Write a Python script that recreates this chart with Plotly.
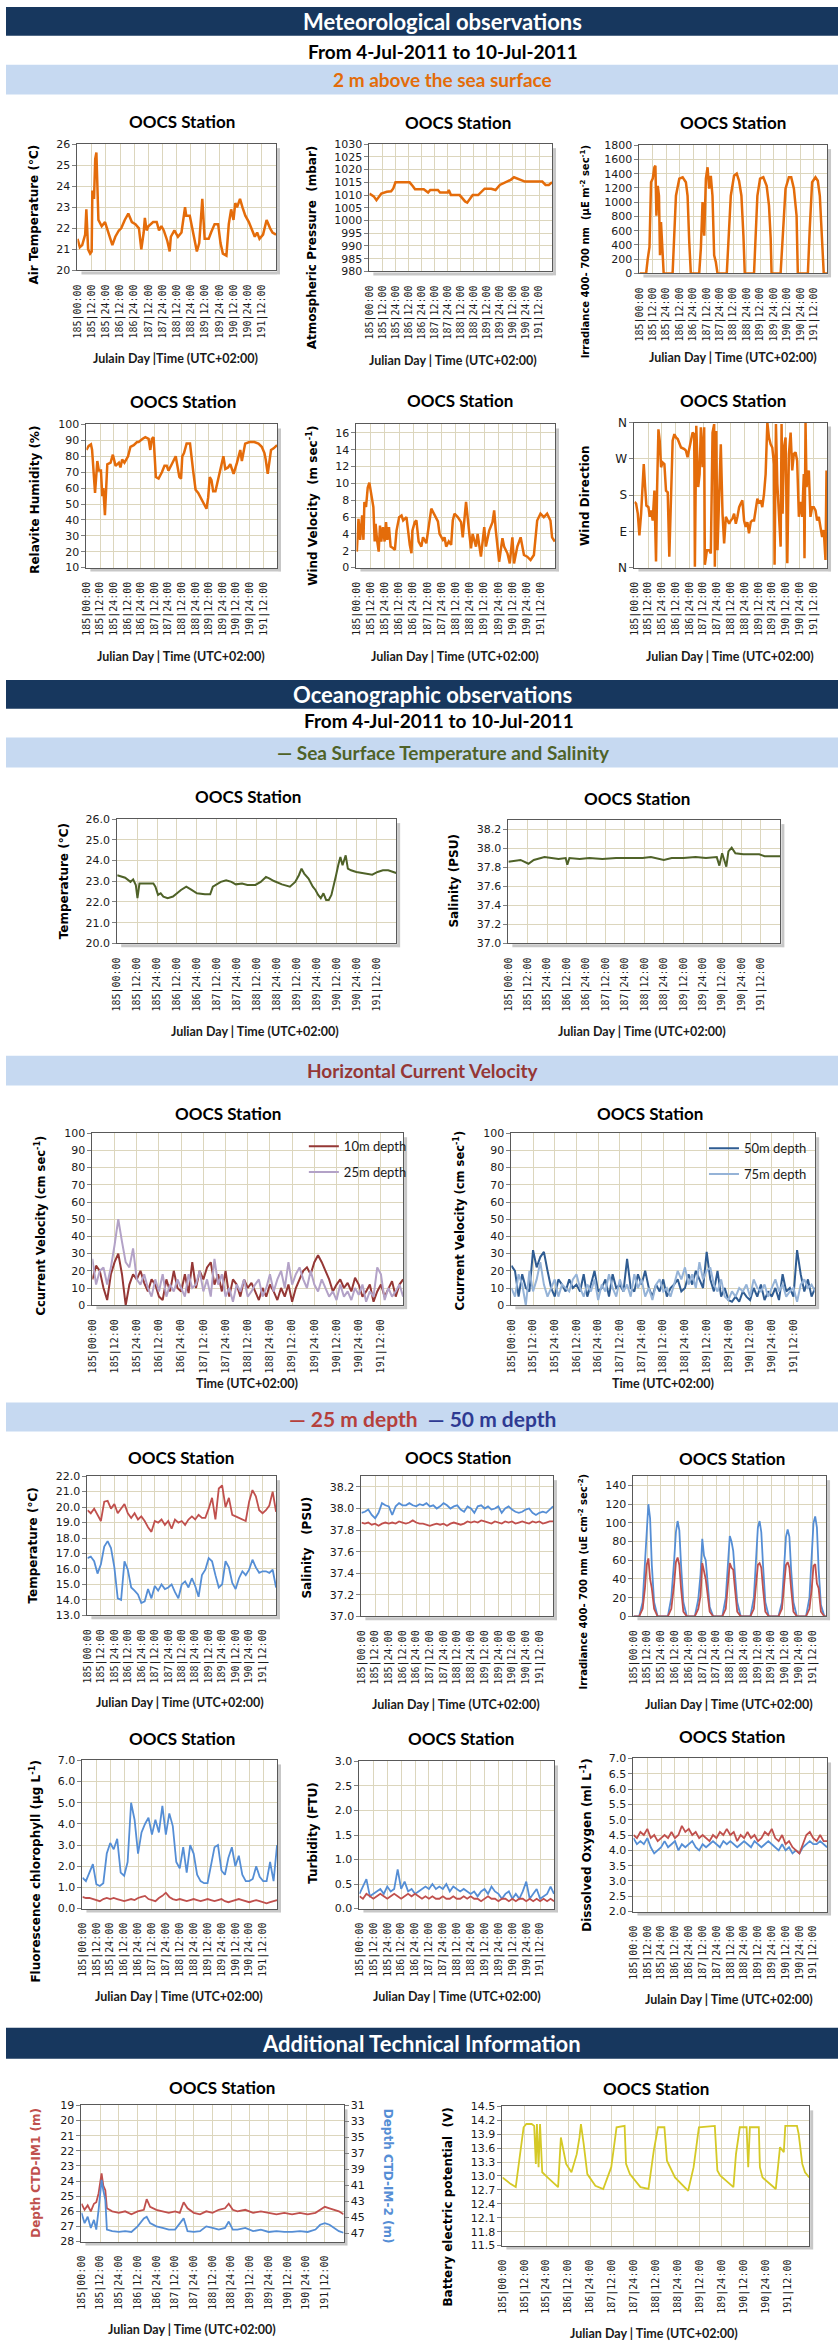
import plotly.graph_objects as go

W, H = 838, 2345

# ---------------- time axis ----------------
XTICK_H = [0, 12, 24, 36, 48, 60, 72, 84, 96, 108, 120, 132, 144, 156]
XTICK_LABELS = ['185|00:00', '185|12:00', '185|24:00', '186|12:00', '186|24:00', '187|12:00',
                '187|24:00', '188|12:00', '188|24:00', '189|12:00', '189|24:00', '190|12:00',
                '190|24:00', '191|12:00']
H3 = list(range(0, 169, 3))
H2 = list(range(0, 169, 2))

# ---------------- meteorological data ----------------
AT_H = [0, 2, 4, 6.5, 7.5, 9, 10.7, 12, 12.6, 14, 15, 16, 17.7, 20.5, 23.3, 26, 29.5, 32, 35, 37,
        40, 43, 46, 49, 52, 54, 56, 57, 58.5, 60, 64, 67, 69, 71, 73, 76, 78, 79, 82, 85,
        88, 91, 92, 95, 97, 99, 101, 103, 105.6, 107.6, 111, 113, 116, 119, 121, 123, 126, 128, 130, 132,
        133.5, 135, 137.5, 139.6, 142, 145, 148, 150, 152, 154, 157, 160, 163, 165, 168]
AT = [21.5, 21.1, 21.2, 21.7, 22.9, 21.0, 20.8, 20.9, 23.8, 23.4, 25.3, 25.6, 22.4, 22.1, 22.3, 21.8, 21.2, 21.6, 21.9, 22.0,
      22.4, 22.7, 22.3, 22.2, 22.0, 21.0, 21.8, 22.5, 21.9, 22.1, 22.3, 22.3, 21.9, 22.1, 21.9, 21.4, 20.9, 21.6, 21.9, 21.6,
      21.8, 23.0, 22.6, 22.6, 22.0, 21.4, 20.9, 21.3, 23.4, 21.5, 21.5, 21.8, 22.2, 22.2, 21.3, 20.8, 20.7, 22.2, 22.9, 22.4,
      23.2, 23.0, 23.4, 23.0, 22.6, 22.3, 21.9, 21.6, 21.8, 21.5, 21.7, 22.4, 22.0, 21.8, 21.7]

PR_H = [0, 4, 6.5, 9, 11, 16, 20, 22, 24, 30, 37, 40, 42, 50, 54, 56, 63, 65, 72, 73,
        75, 83, 88, 90, 95, 100, 106, 112, 116, 120, 125, 130, 133, 138, 143, 150, 159, 162, 165, 168]
PR = [1010.6, 1009.5, 1008.0, 1009.5, 1010.6, 1011.3, 1011.5, 1012.6, 1015.0, 1015.0,
      1015.0, 1013.5, 1012.3, 1012.3, 1011.0, 1012.0, 1012.0, 1011.0, 1011.0, 1012.0,
      1010.0, 1010.0, 1007.5, 1007.0, 1010.0, 1010.0, 1012.5, 1012.5, 1012.0, 1014.0,
      1015.0, 1016.0, 1017.0, 1016.0, 1015.3, 1015.3, 1015.3, 1014.0, 1014.0, 1015.0]

IR_H = [0, 6, 7.4, 9, 10.4, 11.9, 13.4, 14.3, 15.2, 16.4, 17.5, 18.4, 19.3, 20.5, 21.7,
        29.7, 31.2, 32.7, 35.7, 38.7, 41.6, 43.1, 44.6, 46,
        53.5, 55, 56.5, 58, 59.5, 61, 62.4, 63.9, 65.4, 66.9, 68.4, 69.9,
        78.2, 80.3, 81.8, 84.7, 87.1, 89.2, 91.3, 93.1, 94.3,
        102.6, 104.1, 105.6, 108, 110.9, 113.9, 116, 117.5, 118.3,
        126.4, 128.8, 130.8, 133.8, 135.9, 138.3, 140.7, 141.8,
        150.8, 152.5, 154.6, 157.6, 159.7, 161.5, 162.7, 163.6, 165, 168]
IR = [0, 0, 200, 370, 1280, 1330, 1490, 1510, 810, 1230, 1090, 255, 720, 300, 0,
      0, 670, 1090, 1330, 1350, 1280, 1090, 440, 0,
      0, 350, 1000, 530, 1330, 1490, 1190, 1370, 1090, 255, 160, 0,
      0, 720, 1090, 1370, 1400, 1300, 1090, 530, 0,
      0, 490, 1090, 1330, 1350, 1230, 950, 490, 0,
      0, 720, 1190, 1350, 1350, 1190, 810, 0,
      0, 630, 1280, 1350, 1300, 1090, 720, 530, 0, 0]

RH_H = [0, 2, 4, 5, 7.6, 9.6, 11, 12.8, 14, 14.9, 16.3, 17.5, 18.4, 21.3, 23.3, 25.7, 28.6, 30, 31.5, 33.5,
        36.7, 38.8, 41.7, 44.6, 46, 49.6, 51.9, 54.8, 56.3, 57.7, 59.2, 61.2, 63.6, 66.5, 68.8, 70.8, 72.3, 75.2, 78.7, 81.9,
        83.4, 84.5, 86, 88.3, 91.3, 94.2, 95, 96.2, 98.5, 101.5, 103.8, 105.8, 107.3, 108.7, 110.2, 111.7, 113.7, 116, 118.4, 120.7,
        122.4, 124.8, 126.8, 129.7, 132.7, 135.6, 137, 139.9, 143.7, 148, 151.6, 154.5, 156.9, 158, 159.8, 161.2, 162.7, 165, 168]
RH = [84, 86.5, 87.5, 84, 57, 77, 71, 71, 55, 60, 43, 65, 75, 76, 81, 74, 76, 73, 78, 76,
      80, 86, 87, 89, 89, 91, 92, 91, 84, 91, 92, 67, 66, 70, 74, 74, 71, 75, 80, 67,
      66, 80, 82, 88, 88, 70, 66, 59, 57, 53, 50, 47, 54, 67, 65, 58, 58, 65, 72, 80,
      72, 73, 75, 69, 76, 84, 77, 88, 89, 89, 88, 86, 82, 78, 69, 76, 84, 85, 87]

WV_H = [0.3, 1.7, 3.1, 4.8, 5.9, 6.7, 8.1, 9.5, 10.9, 12.0, 13.1, 14.3, 15.4, 16.2, 17.4, 18.8, 19.9, 21.0, 22.4, 23.8,
        25.0, 26.1, 27.5, 28.9, 31.1, 32.5, 33.9, 36.1, 38.1, 39.5, 42.3, 43.7, 45.1, 46.5, 47.3, 49.3, 50.7, 52.6, 54.9, 56.3,
        59.1, 63.3, 66.1, 68.9, 70.3, 73.1, 74.5, 75.9, 78.1, 80.1, 81.5, 82.9, 85.7, 87.1, 88.5, 89.9, 92.7, 95.5, 96.9, 98.3,
        101.1, 102.5, 105.3, 108.1, 109.5, 112.3, 115.1, 116.5, 117.9, 120.7, 123.5, 124.9, 127.7, 129.7, 131.9, 133.3, 136.1, 138.9, 141.7, 144.5,
        147.3, 150.1, 151.5, 152.9, 155.7, 158.5, 161.3, 164.1, 165.5, 167.8]
WV = [1.9, 5.8, 3.3, 6.2, 3.3, 7.8, 7.2, 9.5, 10.1, 9.3, 8.2, 7.2, 3.1, 5.2, 3.3, 1.9, 5.0, 3.1, 4.8, 3.1,
      5.4, 3.3, 4.8, 2.5, 2.3, 2.1, 4.4, 6.0, 6.2, 5.6, 6.0, 4.0, 2.7, 1.7, 4.4, 5.4, 5.6, 3.1, 2.5, 3.6,
      2.9, 7.0, 6.2, 5.5, 4.0, 3.3, 3.6, 2.5, 3.1, 2.7, 5.6, 6.4, 6.0, 5.6, 5.4, 3.6, 7.8, 4.0, 2.3, 4.0,
      2.5, 4.0, 1.3, 4.8, 2.5, 4.4, 5.4, 6.8, 4.4, 0.7, 3.5, 2.5, 1.7, 0.5, 3.6, 0.5, 2.5, 3.6, 1.5, 1.3,
      0.9, 1.5, 3.3, 5.6, 6.4, 6.0, 6.4, 5.6, 3.6, 3.1]

WD_H = [0, 1.4, 2.9, 4.3, 5.8, 6.7, 8.1, 9.3, 10.4, 12.2,
        13.3, 14.5, 15.9, 17.4, 18.8, 19.7, 20.9, 22, 23.2, 24.6,
        26.1, 27.5, 29, 30.4, 31.9, 33.3, 34.8, 36.2, 37.7, 40.6,
        43.5, 44.9, 46.3, 47.8, 49.2, 50.7, 52.1, 52.7, 53.9, 55.6,
        56.8, 57.9, 59.4, 60.8, 61.4, 63.2, 65.2, 66.6, 68.1, 69.5,
        70.1, 71.3, 72.4, 73.9, 75.3, 76.8, 78.2, 79.7, 81.1, 82.6,
        84, 85.5, 86.9, 88.4, 89.8, 91.3, 92.7, 94.1, 95.6, 97,
        98.5, 99.9, 101.4, 102.8, 104.3, 105.7, 107.2, 108.6, 110.1, 111.5,
        113, 114.4, 115.9, 117.3, 118.8, 120.2, 121.7, 122.2, 123.4, 124.6,
        126, 127.5, 128.3, 129.2, 130.4, 131.8, 133.3, 134.7, 136.2, 137.6,
        139, 140.5, 141.9, 143.4, 144.8, 146.3, 147.7, 148.3, 149.2, 150.1,
        151.2, 152.1, 153.5, 155, 156.4, 157.9, 159.3, 160.8, 162.2, 163.7,
        165.1, 166.6, 167.5]
WD = [163, 159, 134, 80, 134, 200, 257, 200, 154, 150,
      126, 142, 117, 191, 15, 191, 343, 315, 249, 261,
      257, 191, 187, 27, 167, 315, 331, 323, 319, 298,
      294, 290, 274, 294, 311, 335, 331, 2, 352, 200,
      232, 348, 249, 348, 7, 43, 43, 35, 335, 356,
      2, 339, 43, 167, 306, 134, 60, 126, 117, 109,
      117, 122, 134, 109, 126, 150, 159, 167, 117, 101,
      113, 85, 113, 117, 117, 150, 171, 159, 167, 150,
      183, 232, 360, 323, 306, 298, 257, 7, 356, 208,
      134, 52, 356, 134, 298, 323, 11, 282, 335, 241,
      282, 286, 265, 126, 163, 126, 232, 23, 360, 200,
      232, 241, 126, 150, 150, 142, 117, 126, 101, 76,
      93, 19, 241]

# ---------------- sea surface ----------------
SST_H = [0, 4.8, 8, 9.6, 11.2, 12.2, 13.4, 15.4, 19.2, 21.8, 23, 24.6, 26.2, 27.8, 30.4, 33.6, 38.4, 41.6, 44.8, 48,
         52.8, 56, 57.6, 59.2, 62.4, 65.6, 68.8, 71.4, 75.2, 78.4, 83.2, 86.4, 89.6, 91.8, 94.4, 99.2, 104, 107.2, 109.4, 111,
         112.6, 115.2, 117.8, 119.4, 121, 122.6, 124.2, 125.8, 127.4, 129, 130.6, 131.8, 133.1, 134.4, 135.7, 137.6, 138.9, 140.8, 144, 148.8,
         153.6, 156.8, 160, 163.2, 168]
SST = [23.29, 23.17, 22.97, 23.09, 22.82, 22.18, 22.89, 22.89, 22.89, 22.89, 22.74, 22.34, 22.42, 22.26, 22.18, 22.26, 22.58, 22.74, 22.58, 22.42,
       22.37, 22.37, 22.74, 22.82, 22.97, 23.05, 22.97, 22.85, 22.89, 22.82, 22.82, 22.97, 23.21, 23.13, 23.01, 22.85, 22.74, 22.97, 23.29, 23.61,
       23.37, 23.13, 22.74, 22.58, 22.34, 22.18, 22.42, 22.10, 22.10, 22.34, 22.97, 23.29, 23.77, 24.17, 23.77, 24.25, 23.61, 23.53, 23.45, 23.37,
       23.32, 23.45, 23.53, 23.53, 23.40]

SAL_H = [0, 4.3, 7.5, 12.4, 15.7, 22.3, 27.2, 31, 35.4, 36.4, 37.7, 44, 50, 58, 66.5, 75, 82.9, 88, 92.7, 96,
         100.9, 108, 115.6, 122, 128.7, 130.3, 132, 133.6, 134.6, 135.9, 137.9, 140.2, 145.1, 150, 154.9, 158.2, 163, 168]
SAL = [37.86, 37.87, 37.88, 37.84, 37.88, 37.91, 37.90, 37.89, 37.90, 37.83, 37.90, 37.89, 37.90, 37.89, 37.90, 37.90, 37.90, 37.91, 37.89, 37.88,
       37.90, 37.90, 37.91, 37.90, 37.91, 37.82, 37.95, 37.85, 37.81, 37.97, 38.01, 37.95, 37.94, 37.94, 37.94, 37.92, 37.92, 37.92]

# ---------------- currents (2 h steps) ----------------
CUR10 = [15, 23, 20, 10, 3, 18, 25, 30, 18, 0, 12, 18, 15, 20, 13, 8, 15, 12, 5, 3, 15, 8, 20, 10, 8,
         18, 7, 25, 10, 20, 15, 22, 25, 12, 18, 8, 20, 5, 15, 12, 5, 15, 10, 13, 8, 3, 10, 5, 12, 8,
         3, 10, 5, 12, 2, 10, 15, 20, 22, 18, 25, 29, 25, 20, 15, 8, 12, 15, 10, 13, 8, 16, 12, 5, 8,
         12, 2, 8, 12, 5, 10, 14, 5, 12, 15]
CUR25 = [27, 12, 20, 22, 12, 22, 35, 50, 37, 25, 22, 33, 15, 12, 18, 10, 5, 15, 8, 18, 5, 12, 8, 15, 10,
         5, 18, 10, 12, 20, 8, 15, 5, 27, 12, 18, 5, 10, 2, 12, 8, 15, 5, 8, 12, 15, 5, 10, 18, 8,
         15, 20, 10, 25, 12, 18, 22, 15, 10, 20, 12, 8, 15, 10, 5, 8, 3, 12, 5, 8, 3, 10, 6, 12, 2,
         8, 5, 22, 18, 3, 10, 5, 8, 12, 5]
CUR50 = [23, 20, 5, 18, 10, 8, 32, 22, 28, 31, 20, 10, 5, 15, 12, 8, 15, 10, 12, 8, 18, 5, 12, 20, 8,
         10, 15, 5, 18, 10, 12, 8, 27, 10, 8, 18, 12, 20, 10, 5, 12, 8, 15, 5, 10, 12, 15, 8, 10, 18,
         12, 20, 15, 10, 31, 15, 8, 20, 5, 10, 3, 2, 5, 2, 8, 5, 3, 10, 5, 12, 3, 8, 5, 10, 3,
         18, 8, 10, 5, 32, 18, 8, 15, 5, 10]
CUR75 = [10, 5, 18, 12, 0, 20, 8, 15, 25, 12, 5, 10, 15, 5, 12, 10, 8, 15, 18, 10, 5, 12, 8, 15, 3,
         12, 8, 18, 10, 5, 15, 8, 12, 5, 18, 10, 15, 5, 10, 3, 12, 15, 8, 10, 5, 12, 20, 15, 22, 12,
         18, 10, 25, 15, 20, 22, 12, 8, 15, 5, 3, 8, 5, 10, 8, 12, 5, 15, 10, 8, 12, 5, 10, 15, 8,
         12, 5, 8, 10, 2, 12, 15, 10, 12, 8]

# ---------------- 25 m / 50 m (3 h steps) ----------------
T25 = [19.8, 19.6, 19.9, 19.5, 19.1, 20.35, 20.4, 19.9, 20.2, 19.6, 19.9, 20.2, 19.6, 19.3, 19.6, 19.2, 19.4, 19.1, 18.7, 18.4,
       19.1, 19.0, 19.2, 18.85, 19.1, 18.6, 19.2, 19.0, 19.1, 18.85, 19.2, 19.4, 19.2, 19.5, 19.3, 19.3, 19.9, 20.6, 19.2, 21.2,
       21.4, 20.0, 20.6, 19.5, 19.4, 19.3, 19.2, 19.1, 20.35, 21.1, 20.7, 19.8, 19.6, 19.8, 20.1, 21.0, 19.7]
T50 = [16.7, 16.8, 16.5, 15.7, 16.3, 17.45, 17.8, 17.35, 16.1, 14.1, 14.0, 16.5, 15.95, 14.8, 14.6, 14.35, 13.8, 13.9, 14.7, 14.1,
       14.9, 14.6, 15.0, 14.7, 14.8, 15.0, 14.5, 14.1, 15.0, 15.2, 14.8, 15.4, 14.9, 14.2, 15.6, 15.95, 16.7, 16.5, 15.6, 14.8,
       15.0, 16.5, 16.1, 15.1, 14.7, 15.4, 15.85, 15.6, 15.95, 16.6, 16.1, 15.75, 15.85, 15.85, 15.75, 15.95, 14.8]
S25 = [37.87, 37.86, 37.87, 37.85, 37.86, 37.84, 37.86, 37.87, 37.86, 37.87, 37.86, 37.88, 37.87, 37.86, 37.87, 37.89, 37.87, 37.86, 37.86, 37.85,
       37.84, 37.85, 37.86, 37.85, 37.86, 37.84, 37.86, 37.87, 37.86, 37.85, 37.86, 37.88, 37.87, 37.88, 37.87, 37.89, 37.88, 37.87, 37.86, 37.88,
       37.87, 37.86, 37.88, 37.87, 37.88, 37.86, 37.87, 37.88, 37.87, 37.86, 37.88, 37.87, 37.88, 37.86, 37.87, 37.88, 37.88]
S50 = [37.96, 37.97, 37.99, 37.94, 37.91, 37.96, 38.05, 38.03, 38.02, 37.94, 38.02, 38.05, 38.03, 38.03, 38.05, 38.03, 38.02, 38.04, 38.03, 38.05,
       38.02, 38.03, 38.00, 38.02, 38.05, 38.03, 38.00, 38.02, 38.03, 37.99, 37.97, 38.02, 38.00, 37.96, 38.02, 38.03, 38.00, 38.02, 37.99, 38.00,
       38.02, 37.96, 38.00, 38.02, 37.99, 37.97, 37.96, 37.97, 37.99, 38.00, 37.96, 37.94, 37.96, 37.97, 37.96, 37.99, 38.02]
IRD_H = [0, 5, 8, 10, 11.5, 13, 14.5, 16, 18, 21, 30, 33, 35.5, 37, 38.5, 40, 41.5, 43.5, 46.5,
         53.5, 56.5, 58.5, 60, 61.5, 63, 64.5, 66.5, 69.5, 77.5, 80.5, 82.5, 84, 85.5, 87, 88.5, 90.5, 93.5,
         102, 105, 107, 108.5, 110, 111.5, 113, 115, 118, 126.5, 129.5, 131.5, 133, 134.5, 136, 137.5, 139.5, 142.5,
         150.5, 153.5, 155.5, 157, 158.5, 160, 161.5, 163.5, 166.5, 168]
IRD50 = [0, 0, 15, 60, 100, 120, 105, 55, 15, 0, 0, 20, 60, 90, 102, 92, 55, 15, 0,
         0, 18, 45, 83, 65, 60, 40, 10, 0, 0, 20, 55, 86, 80, 70, 45, 15, 0,
         0, 20, 60, 95, 102, 90, 55, 15, 0, 0, 15, 55, 85, 93, 85, 50, 15, 0,
         0, 20, 60, 100, 107, 95, 50, 12, 0, 0]
IRD25 = [0, 0, 8, 30, 55, 62, 40, 30, 8, 0, 0, 8, 35, 58, 63, 55, 30, 5, 0,
         0, 8, 22, 57, 50, 40, 25, 5, 0, 0, 8, 35, 57, 52, 50, 30, 5, 0,
         0, 8, 35, 55, 57, 52, 30, 5, 0, 0, 8, 35, 55, 58, 52, 30, 5, 0,
         0, 8, 30, 54, 56, 35, 30, 5, 0, 0]
CHL25 = [0.55, 0.5, 0.5, 0.45, 0.4, 0.35, 0.45, 0.5, 0.45, 0.5, 0.45, 0.4, 0.35, 0.4, 0.45, 0.4, 0.5, 0.55, 0.6, 0.45,
         0.4, 0.35, 0.5, 0.6, 0.75, 0.55, 0.45, 0.4, 0.45, 0.4, 0.35, 0.4, 0.45, 0.4, 0.35, 0.4, 0.45, 0.4, 0.35, 0.4,
         0.45, 0.35, 0.3, 0.35, 0.4, 0.45, 0.4, 0.35, 0.3, 0.35, 0.4, 0.35, 0.3, 0.25, 0.3, 0.35, 0.4]
CHL50 = [1.46, 1.3, 1.7, 2.1, 1.15, 1.07, 1.2, 2.6, 3.1, 2.8, 3.3, 1.7, 1.55, 2.2, 5.0, 4.2, 2.6, 3.6, 4.0, 4.3,
         3.5, 4.2, 3.6, 4.85, 3.5, 4.5, 3.9, 2.2, 1.9, 2.9, 1.7, 3.0, 2.6, 1.6, 1.3, 1.2, 1.2, 2.0, 2.9, 3.0,
         1.8, 1.6, 2.4, 2.9, 2.0, 2.5, 1.6, 1.3, 1.3, 1.4, 2.0, 1.5, 1.3, 1.3, 2.2, 1.3, 3.0]
TUR25 = [0.25, 0.2, 0.3, 0.25, 0.2, 0.25, 0.3, 0.25, 0.2, 0.25, 0.3, 0.25, 0.2, 0.25, 0.3, 0.25, 0.3, 0.25, 0.2, 0.25,
         0.2, 0.25, 0.2, 0.2, 0.25, 0.2, 0.2, 0.25, 0.2, 0.2, 0.25, 0.2, 0.25, 0.2, 0.2, 0.15, 0.2, 0.25, 0.2, 0.2,
         0.15, 0.2, 0.2, 0.15, 0.2, 0.15, 0.2, 0.2, 0.15, 0.2, 0.15, 0.2, 0.15, 0.2, 0.15, 0.2, 0.15]
TUR50 = [0.3, 0.45, 0.6, 0.25, 0.3, 0.35, 0.4, 0.3, 0.45, 0.35, 0.4, 0.8, 0.4, 0.55, 0.35, 0.4, 0.3, 0.35, 0.4, 0.45,
         0.4, 0.5, 0.4, 0.45, 0.4, 0.5, 0.35, 0.45, 0.4, 0.35, 0.4, 0.35, 0.3, 0.35, 0.25, 0.35, 0.4, 0.3, 0.45, 0.35,
         0.3, 0.2, 0.3, 0.35, 0.2, 0.3, 0.2, 0.35, 0.55, 0.2, 0.3, 0.4, 0.2, 0.25, 0.3, 0.45, 0.3]
DO25 = [4.5, 4.4, 4.6, 4.5, 4.7, 4.4, 4.5, 4.3, 4.4, 4.5, 4.4, 4.6, 4.4, 4.5, 4.8, 4.6, 4.7, 4.5, 4.6, 4.4,
        4.5, 4.4, 4.3, 4.5, 4.4, 4.6, 4.5, 4.7, 4.5, 4.6, 4.3, 4.5, 4.4, 4.6, 4.4, 4.5, 4.3, 4.4, 4.6, 4.5,
        4.7, 4.4, 4.3, 4.5, 4.2, 4.3, 4.1, 4.0, 3.9, 4.2, 4.5, 4.6, 4.4, 4.3, 4.5, 4.3, 4.3]
DO50 = [4.4, 4.2, 4.3, 4.2, 4.4, 4.1, 3.9, 4.0, 4.1, 4.3, 4.1, 4.2, 4.3, 4.0, 4.2, 4.1, 4.2, 4.3, 4.1, 4.0,
        4.2, 4.1, 4.2, 4.3, 4.2, 4.1, 4.3, 4.2, 4.3, 4.2, 4.1, 4.2, 4.3, 4.2, 4.1, 4.3, 4.2, 4.1, 4.2, 4.3,
        4.2, 4.1, 4.0, 4.2, 4.0, 4.1, 3.9, 4.0, 3.9, 4.1, 4.2, 4.3, 4.2, 4.2, 4.3, 4.2, 4.1]

# ---------------- technical ----------------
DEP_H = [0, 2, 4, 6, 8, 9.5, 11, 12.9, 14, 15.3, 16.3, 19.7, 24, 28, 32, 36, 40, 41.8, 44, 48,
         52, 56, 60, 63, 65.5, 68, 72, 76, 80, 84, 88, 92, 94.4, 97, 100, 105, 110, 115, 120, 125,
         130, 135, 140, 145, 150, 153, 156, 159, 162, 165, 168]
DEP1 = [25.5, 25.9, 25.6, 26.0, 25.5, 25.4, 24.8, 23.5, 24.3, 24.6, 25.8, 26.0, 26.1, 26.0, 26.2, 26.0, 25.9, 25.2, 25.7, 25.9,
        26.0, 26.1, 26.0, 26.1, 25.4, 25.8, 26.1, 26.2, 26.0, 26.1, 25.9, 25.8, 25.5, 25.9, 26.0, 25.9, 26.1, 26.0, 26.1, 26.2,
        26.1, 26.2, 26.1, 26.2, 26.1, 25.9, 25.7, 25.8, 25.9, 26.0, 26.2]
DEP2 = [44.4, 45.7, 44.9, 46.3, 45.3, 46.5, 44.0, 40.3, 41.6, 42.8, 46.5, 46.7, 46.8, 46.7, 46.8, 46.1, 45.1, 44.9, 45.7, 46.1,
        46.3, 46.5, 46.5, 45.7, 45.1, 46.7, 46.8, 46.7, 46.1, 46.3, 46.5, 46.3, 45.5, 46.5, 46.5, 46.3, 46.7, 46.5, 46.8, 46.7,
        46.8, 46.8, 46.7, 46.8, 46.5, 45.9, 45.7, 45.9, 46.3, 46.7, 46.9]
BAT_H = [0, 4.4, 7.3, 8.7, 10.2, 11.6, 13.1, 16, 17.4, 18.3, 18.9, 19.8, 20.6, 21.8, 24.7, 30.5, 32, 33.4, 34.9, 37.8,
         40.7, 42.2, 43, 44.5, 46.5, 50.9, 55.2, 59.6, 62.5, 66.9, 67.7, 69.8, 75.6, 80, 82.9, 85.2, 88.7, 90.1, 94.5, 101.7,
         104.7, 107.6, 116.3, 117.7, 119.2, 126.5, 127.9, 130, 133.7, 134.6, 135.5, 140.4, 141, 142.4, 149.7, 152, 154.1, 154.9, 161.3, 162.2,
         163.1, 164.2, 165.7, 168]
BAT = [12.97, 12.83, 12.76, 13.19, 13.62, 14.05, 14.12, 14.12, 14.08, 13.26, 14.12, 13.19, 14.12, 13.08, 12.97, 12.76, 13.83, 13.55, 13.26, 13.08,
       13.47, 13.83, 14.12, 13.69, 13.04, 12.79, 12.72, 13.19, 14.05, 14.08, 13.26, 13.04, 12.76, 12.72, 13.55, 14.05, 14.05, 13.33, 12.97, 12.68,
       13.19, 14.05, 14.08, 13.12, 13.01, 12.76, 13.47, 14.05, 14.05, 13.19, 14.05, 14.05, 13.19, 12.97, 12.72, 13.62, 13.51, 14.08, 14.08, 13.91,
       13.55, 13.26, 13.08, 12.97]

# ---------------- styling ----------------
ORANGE = '#e46c0a'
OLIVE = '#4f6228'
RED = '#c0504d'
BLUE = '#558ed5'
NAVY = '#17375e'
LIGHTBAR = '#c6d9f1'
GRID = '#dcd6bd'
AXLINE = '#595959'
YTICKFONT = dict(family='DejaVu Sans', size=11, color='#1a1a1a')
XTICKFONT = dict(family='DejaVu Sans Mono', size=10, color='#1a1a1a')


def fx(p):
    return p / W


def fy(p):
    return 1 - p / H


layout = dict(width=W, height=H, margin=dict(l=0, r=0, t=0, b=0),
              paper_bgcolor='white', plot_bgcolor='white', showlegend=True,
              shapes=[], annotations=[])
fig = go.Figure()
_n = [0]
SHADOW = 'rgba(0,0,0,0.22)'


def panel(box, yrange, ytickvals, yticktext=None):
    _n[0] += 1
    n = _n[0]
    x0, x1, y0, y1 = box
    xn = 'xaxis' if n == 1 else 'xaxis%d' % n
    yn = 'yaxis' if n == 1 else 'yaxis%d' % n
    xr = 'x' if n == 1 else 'x%d' % n
    yr = 'y' if n == 1 else 'y%d' % n
    layout[xn] = dict(domain=[fx(x0), fx(x1)], anchor=yr, range=[0, 168],
                      tickmode='array', tickvals=XTICK_H, ticktext=XTICK_LABELS,
                      tickangle=-90, tickfont=XTICKFONT, showgrid=True, gridcolor=GRID,
                      showline=True, linecolor=AXLINE, mirror=True, ticks='outside',
                      ticklen=9, tickcolor='rgba(0,0,0,0)', zeroline=False, fixedrange=True)
    yd = dict(domain=[fy(y1), fy(y0)], anchor=xr, range=yrange, tickmode='array',
              tickvals=ytickvals, tickfont=YTICKFONT, showgrid=True, gridcolor=GRID,
              showline=True, linecolor=AXLINE, mirror=True, ticks='outside', ticklen=4,
              tickcolor='#808080', zeroline=False, fixedrange=True)
    if yticktext is not None:
        yd['ticktext'] = yticktext
    layout[yn] = yd
    # drop shadow: thin strips on the right and bottom edges, outside the plot area
    layout['shapes'].append(dict(type='rect', xref='paper', yref='paper', layer='below',
                                 x0=fx(x1 + 1), x1=fx(x1 + 4), y0=fy(y1 + 4), y1=fy(y0 + 4),
                                 fillcolor=SHADOW, line=dict(width=0)))
    layout['shapes'].append(dict(type='rect', xref='paper', yref='paper', layer='below',
                                 x0=fx(x0 + 4), x1=fx(x1 + 1), y0=fy(y1 + 4), y1=fy(y1 + 1),
                                 fillcolor=SHADOW, line=dict(width=0)))
    return xr, yr


def line(ax, x, y, color, width=2.0, name=None, legend=None, group=None):
    fig.add_trace(go.Scatter(x=x, y=y, xaxis=ax[0], yaxis=ax[1], mode='lines',
                             line=dict(color=color, width=width), name=name or '',
                             showlegend=legend is not None, legend=legend or 'legend',
                             legendgroup=group, hoverinfo='skip'))


def text(x, y, s, size, color='black', family='Lato', angle=0, bold=False, xanchor='center'):
    if bold:
        s = '<b>' + s + '</b>'
    layout['annotations'].append(dict(x=fx(x), y=fy(y), xref='paper', yref='paper', text=s,
                                      showarrow=False, textangle=angle, xanchor=xanchor,
                                      yanchor='middle',
                                      font=dict(family=family, size=size, color=color)))


def bar(y0, y1, color):
    layout['shapes'].append(dict(type='rect', xref='paper', yref='paper', layer='below',
                                 x0=0, x1=1, y0=fy(y1), y1=fy(y0), fillcolor=color,
                                 line=dict(width=0)))


def title(x, y):
    text(x, y, 'OOCS Station', 17, bold=True)


def ytitle(x, y, s, size=12, color='black', angle=-90):
    text(x, y, s, size, color=color, family='DejaVu Sans', angle=angle, bold=True)


def xtitle(x, y, s):
    text(x, y, s, 12.5, color='#1a1a1a', bold=True)


# ================= headers =================
bar(0, 29, NAVY)
text(440, 15, 'Meteorological observations', 22, color='white', bold=True)
text(440, 45, 'From 4-Jul-2011 to 10-Jul-2011', 19, bold=True)
bar(58, 88, LIGHTBAR)
text(440, 73, '2 m above the sea surface', 19, color='#e36c09', bold=True)

bar(677, 706, NAVY)
text(430, 692, 'Oceanographic observations', 22, color='white', bold=True)
text(436, 718, 'From 4-Jul-2011 to 10-Jul-2011', 19, bold=True)
bar(735, 765, LIGHTBAR)
text(441, 750, '— Sea Surface Temperature and Salinity', 19, color=OLIVE, bold=True)

bar(1055, 1085, LIGHTBAR)
text(420, 1070, 'Horizontal Current Velocity', 19, color='#953735', bold=True)

bar(1404, 1433, LIGHTBAR)
text(420, 1420, '<span style="color:#b5403c">— 25 m depth</span>  '
                '<span style="color:#2e3a92">— 50 m depth</span>', 21, bold=True)

bar(2033, 2064, NAVY)
text(418, 2049, 'Additional Technical Information', 22, color='white', bold=True)

# ================= meteorological panels =================
a1 = panel((72, 272, 138, 265), [20, 26], [20, 21, 22, 23, 24, 25, 26])
line(a1, AT_H, AT, ORANGE, 2.5)
title(177, 115); ytitle(28, 209, 'Air Temperature (°C)'); xtitle(171, 354, 'Julain Day |Time (UTC+02:00)')

a2 = panel((366, 550, 138, 266), [980, 1030], list(range(980, 1031, 5)))
line(a2, PR_H, PR, ORANGE, 2.5)
title(455, 116); ytitle(308, 242, 'Atmospheric Pressure  (mbar)'); xtitle(450, 356, 'Julian Day | Time (UTC+02:00)')

a3 = panel((638, 827, 139, 268), [0, 1800], list(range(0, 1801, 200)))
line(a3, IR_H, IR, ORANGE, 2.5)
title(732, 116); ytitle(583, 246, 'Irradiance 400- 700 nm  (µE m<sup>-2</sup> sec<sup>-1</sup>)', 10)
xtitle(732, 353, 'Julian Day | Time (UTC+02:00)')

b1 = panel((81, 273, 420, 564), [10, 100], list(range(10, 101, 10)))
line(b1, RH_H, RH, ORANGE, 2.5)
title(178, 397); ytitle(29, 496, 'Relavite Humidity (%)'); xtitle(176, 653, 'Julian Day | Time (UTC+02:00)')

b2 = panel((353, 553, 420, 564), [0, 17], list(range(0, 17, 2)))
line(b2, WV_H, WV, ORANGE, 2.5)
title(457, 396); ytitle(308, 502, 'Wind Velocity  (m sec<sup>-1</sup>)'); xtitle(452, 653, 'Julian Day | Time (UTC+02:00)')

b3 = panel((633, 827, 418, 564), [0, 360], [0, 90, 180, 270, 360], ['N', 'E', 'S', 'W', 'N'])
layout['yaxis6']['tickfont'] = dict(family='DejaVu Sans', size=12, color='#1a1a1a')
line(b3, WD_H, WD, ORANGE, 2.5)
title(732, 396); ytitle(583, 491, 'Wind Direction'); xtitle(729, 653, 'Julian Day | Time (UTC+02:00)')

# ================= sea surface =================
c1 = panel((112, 393, 817, 942), [20, 26], [20, 21, 22, 23, 24, 25, 26],
           ['20.0', '21.0', '22.0', '23.0', '24.0', '25.0', '26.0'])
line(c1, SST_H, SST, OLIVE, 2)
title(244, 794); ytitle(58, 880, 'Temperature (°C)'); xtitle(251, 1031, 'Julian Day | Time (UTC+02:00)')

SAL_TICKS = [37.0, 37.2, 37.4, 37.6, 37.8, 38.0, 38.2]
SAL_TEXT = ['37.0', '37.2', '37.4', '37.6', '37.8', '38.0', '38.2']
c2 = panel((506, 780, 818, 942), [37.0, 38.3], SAL_TICKS, SAL_TEXT)
line(c2, SAL_H, SAL, OLIVE, 2)
title(636, 796); ytitle(451, 879, 'Salinity (PSU)'); xtitle(641, 1031, 'Julian Day | Time (UTC+02:00)')

# ================= currents =================
d1 = panel((87, 400, 1133, 1306), [0, 100], list(range(0, 101, 10)))
line(d1, H2, CUR10, '#953735', 2, '10m depth', 'legend', 'g1')
line(d1, H2, CUR25, '#b3a2c7', 2, '25m depth', 'legend', 'g2')
title(224, 1113); ytitle(35, 1226, 'Ccurrent Velocity (cm sec<sup>-1</sup>)', 11.5); xtitle(243, 1385, 'Time (UTC+02:00)')

d2 = panel((509, 815, 1133, 1306), [0, 100], list(range(0, 101, 10)))
line(d2, H2, CUR50, '#2f5c92', 2, '50m depth', 'legend2', 'g3')
line(d2, H2, CUR75, '#95b3d7', 2, '75m depth', 'legend2', 'g4')
title(649, 1113); ytitle(457, 1221, 'Ccurrent Velocity (cm sec<sup>-1</sup>)', 11.5); xtitle(662, 1385, 'Time (UTC+02:00)')

LEG = dict(xref='paper', yref='paper', xanchor='left', yanchor='top', bgcolor='rgba(0,0,0,0)',
           font=dict(family='Lato', size=13, color='#1a1a1a'), tracegroupgap=6,
           traceorder='grouped', itemwidth=30)
layout['legend'] = dict(LEG, x=fx(300), y=fy(1131))
layout['legend2'] = dict(LEG, x=fx(703), y=fy(1133))

# ================= 25 m / 50 m =================
e1 = panel((82, 272, 1478, 1618), [13, 22], list(range(13, 23)),
           ['13.0', '14.0', '15.0', '16.0', '17.0', '18.0', '19.0', '20.0', '21.0', '22.0'])
line(e1, H3, T25, RED, 1.8)
line(e1, H3, T50, BLUE, 1.8)
title(176, 1459); ytitle(27, 1548, 'Temperature (°C)'); xtitle(175, 1706, 'Julian Day | Time (UTC+02:00)')

e2 = panel((358, 551, 1478, 1619), [37.0, 38.3], SAL_TICKS, SAL_TEXT)
line(e2, H3, S25, RED, 1.8)
line(e2, H3, S50, BLUE, 1.8)
title(455, 1459); ytitle(303, 1550, 'Salinity   (PSU)'); xtitle(453, 1708, 'Julian Day | Time (UTC+02:00)')

e3 = panel((632, 826, 1478, 1619), [0, 150], list(range(0, 141, 20)))
line(e3, IRD_H, IRD50, BLUE, 1.8)
line(e3, IRD_H, IRD25, RED, 1.8)
title(731, 1460); ytitle(581, 1584, 'Irradiance 400- 700 nm (uE cm<sup>-2</sup> sec<sup>-2</sup>)', 10)
xtitle(728, 1708, 'Julian Day | Time (UTC+02:00)')

f1 = panel((77, 273, 1764, 1913), [0, 7], list(range(0, 8)),
           ['0.0', '1.0', '2.0', '3.0', '4.0', '5.0', '6.0', '7.0'])
line(f1, H3, CHL50, BLUE, 1.8)
line(f1, H3, CHL25, RED, 1.8)
title(177, 1742); ytitle(29, 1875, 'Fluorescence chlorophyll (µg L<sup>-1</sup>)'); xtitle(174, 2001, 'Julian Day | Time (UTC+02:00)')

f2 = panel((356, 552, 1765, 1913), [0, 3], [0, 0.5, 1.0, 1.5, 2.0, 2.5, 3.0],
           ['0.0', '0.5', '1.0', '1.5', '2.0', '2.5', '3.0'])
line(f2, H3, TUR50, BLUE, 1.8)
line(f2, H3, TUR25, RED, 1.8)
title(458, 1742); ytitle(309, 1837, 'Turbidity (FTU)'); xtitle(454, 2001, 'Julian Day | Time (UTC+02:00)')

f3 = panel((632, 827, 1762, 1916), [2, 7], [2, 2.5, 3, 3.5, 4, 4.5, 5, 5.5, 6, 6.5, 7],
           ['2.0', '2.5', '3.0', '3.5', '4.0', '4.5', '5.0', '5.5', '6.0', '6.5', '7.0'])
line(f3, H3, DO50, BLUE, 1.8)
line(f3, H3, DO25, RED, 1.8)
title(731, 1740); ytitle(584, 1849, 'Dissolved Oxygen (ml L<sup>-1</sup>)'); xtitle(728, 2004, 'Julain Day | Time (UTC+02:00)')

# ================= technical =================
g1 = panel((76, 340, 2111, 2248), [28, 19], list(range(19, 29)))
layout['yaxis30'] = dict(overlaying=g1[1], side='right', anchor=g1[0], range=[48, 31],
                         tickmode='array', tickvals=list(range(31, 48, 2)), tickfont=YTICKFONT,
                         showgrid=False, showline=False, ticks='outside', ticklen=4,
                         tickcolor='#808080', zeroline=False, fixedrange=True)
line(g1, DEP_H, DEP1, RED, 1.8)
line((g1[0], 'y30'), DEP_H, DEP2, BLUE, 1.8)
title(218, 2093)
ytitle(30, 2179, 'Depth CTD-IM1 (m)', 12, color=RED)
ytitle(385, 2182, 'Depth CTD-IM-2 (m)', 12, color=BLUE, angle=90)
xtitle(187, 2336, 'Julian Day | Time (UTC+02:00)')

g2 = panel((500, 809, 2112, 2252), [11.5, 14.5],
           [11.5, 11.8, 12.1, 12.4, 12.7, 13.0, 13.3, 13.6, 13.9, 14.2, 14.5],
           ['11.5', '11.8', '12.1', '12.4', '12.7', '13.0', '13.3', '13.6', '13.9', '14.2', '14.5'])
line(g2, BAT_H, BAT, '#d5c926', 1.8)
title(655, 2094); ytitle(445, 2213, 'Battery electric potential  (V)'); xtitle(653, 2340, 'Julian Day | Time (UTC+02:00)')

fig.update_layout(**layout)
fig.write_html('out.html', config={'displayModeBar': False},
               post_script="document.body.style.margin='0px';document.body.style.padding='0px';")
